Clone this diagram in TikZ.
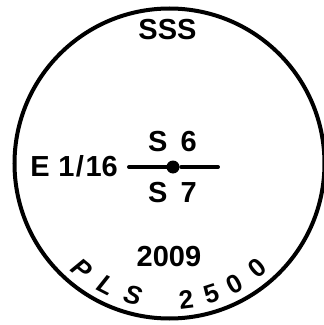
\documentclass[tikz,border=0pt]{standalone}
\usepackage{fontspec}
\setmainfont{Liberation Sans}
\usepackage{tikz}

\begin{document}
\begin{tikzpicture}[x=1pt, y=1pt, font=\fontsize{29}{29}\selectfont\bfseries,
  stamp/.style={line width=4pt},
  bar/.style={line width=4pt, line cap=round},
  lbl/.style={inner sep=0pt, anchor=base}]
  \useasboundingbox (0,0) rectangle (324,325);
  % stamp ring, centre of the lettering
  \coordinate (ctr) at (169.5,161.5);
  \draw[stamp] (ctr) circle (155);
  \node[lbl] (top) at (167.5,286) {SSS};
  \node[lbl] (s6) at (172.5,174) {S\hspace{0.45em}6};
  \node[lbl] (s7) at (172.5,123) {S\hspace{0.45em}7};
  \node[lbl] (year) at (169,59) {2009};
  \node[lbl, anchor=base east] (scale) at (118,149) {E\hspace{0.3em}1\kern1.5pt/\kern1.5pt16};
  \node[circle, fill, inner sep=0pt, minimum size=13pt] (dot) at (173,158) {};
  \coordinate (tail) at (218,158);
  \draw[bar] (scale.east |- dot) ++(11,0) -- (dot);
  \draw[bar, shorten <=1.5pt] (dot) -- (tail);
  % lettering round the bottom of the ring
  \foreach \ch/\ang in {{\itshape P}/230.5, {\itshape L}/242.5, {\itshape S}/254.5,
                        2/277, 5/288, 0/298.5, 0/310}
    { \node[rotate=\ang+90, inner sep=0pt, font=\fontsize{26}{26}\selectfont\bfseries]
        (pls\ang) at ([shift={(\ang:137)}]ctr) {\ch}; }
\end{tikzpicture}
\end{document}
